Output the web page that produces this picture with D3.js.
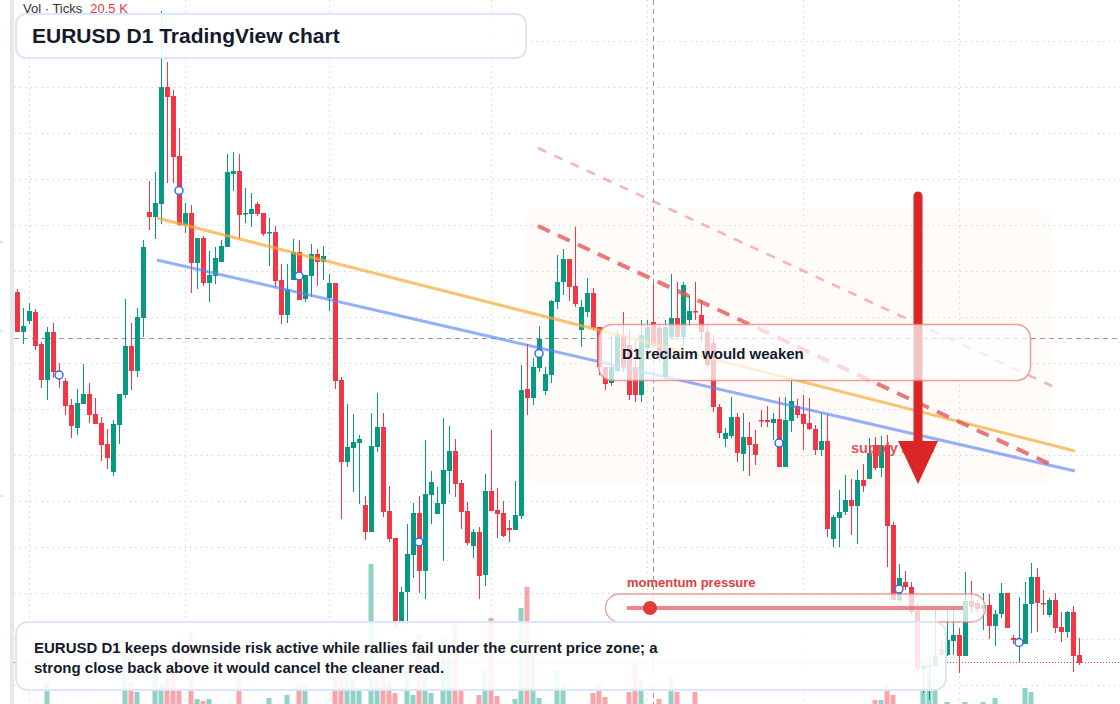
<!DOCTYPE html>
<html><head><meta charset="utf-8">
<script src="https://cdn.jsdelivr.net/npm/d3@7"></script>
<style>
html,body{margin:0;padding:0;background:#fff;}
svg{display:block;font-family:"Liberation Sans",Arial,Helvetica,sans-serif;}
</style></head><body>
<svg id="c" width="1120" height="704"></svg>
<script>
// ---- data (EURUSD D1) ----
const open = [1.1208,1.1168,1.1179,1.1188,1.1156,1.1120,1.1168,1.1128,1.1119,1.1095,1.1072,1.1096,1.1106,1.1086,1.1077,1.1056,1.1028,1.1075,1.1105,1.1154,1.1129,1.1182,1.1288,1.1283,1.1296,1.1413,1.1404,1.1344,1.1275,1.1287,1.1237,1.1262,1.1217,1.1224,1.1238,1.1253,1.1326,1.1329,1.1286,1.1286,1.1296,1.1287,1.1267,1.1268,1.1220,1.1185,1.1220,1.1248,1.1201,1.1224,1.1246,1.1238,1.1202,1.1217,1.1120,1.1038,1.1052,1.1057,1.0995,1.0968,1.1053,1.1073,1.0989,1.0962,1.0879,1.0908,1.0945,1.0987,1.0929,1.1005,1.0986,1.0996,1.1029,1.1049,1.1017,1.0989,1.0954,1.0968,1.0925,1.1009,1.0990,1.0987,1.0972,1.0970,1.0984,1.1111,1.1102,1.1132,1.1109,1.1125,1.1198,1.1218,1.1241,1.1214,1.1170,1.1188,1.1207,1.1173,1.1133,1.1117,1.1129,1.1164,1.1155,1.1133,1.1105,1.1152,1.1178,1.1172,1.1123,1.1163,1.1182,1.1163,1.1180,1.1189,1.1185,1.1168,1.1157,1.1093,1.1061,1.1064,1.1083,1.1046,1.1063,1.1056,1.1080,1.1080,1.1077,1.1081,1.1033,1.1079,1.1094,1.1086,1.1077,1.1071,1.1050,1.1059,1.0961,1.0982,1.0988,1.1000,1.0994,1.1020,1.1021,1.1055,1.1032,1.1055,1.0975,1.0900,1.0918,1.0913,1.0889,1.0831,1.0833,1.0834,1.0851,1.0845,1.0859,1.0865,1.0844,1.0899,1.0897,1.0891,1.0895,1.0874,1.0886,1.0907,1.0862,1.0855,1.0856,1.0896,1.0923,1.0897,1.0885,1.0900,1.0873,1.0868,1.0888,1.0845];
const high = [1.1211,1.1192,1.1197,1.1191,1.1158,1.1173,1.1177,1.1137,1.1122,1.1101,1.1111,1.1136,1.1117,1.1102,1.1083,1.1071,1.1080,1.1106,1.1201,1.1177,1.1192,1.1260,1.1319,1.1328,1.1489,1.1438,1.1410,1.1372,1.1297,1.1295,1.1262,1.1264,1.1249,1.1253,1.1260,1.1346,1.1348,1.1346,1.1312,1.1307,1.1298,1.1287,1.1282,1.1274,1.1236,1.1236,1.1261,1.1260,1.1225,1.1256,1.1251,1.1254,1.1226,1.1217,1.1123,1.1096,1.1086,1.1065,1.1004,1.1087,1.1107,1.1087,1.1014,1.0962,1.0913,1.0976,1.0997,1.1004,1.1060,1.1029,1.1013,1.1082,1.1074,1.1061,1.1020,1.0998,1.0971,1.0973,1.1026,1.1070,1.1012,1.0999,1.0980,1.1019,1.1135,1.1156,1.1142,1.1174,1.1133,1.1200,1.1245,1.1251,1.1241,1.1273,1.1200,1.1222,1.1212,1.1173,1.1133,1.1165,1.1170,1.1188,1.1170,1.1160,1.1180,1.1180,1.1217,1.1175,1.1180,1.1226,1.1218,1.1218,1.1204,1.1218,1.1200,1.1175,1.1165,1.1096,1.1072,1.1103,1.1087,1.1087,1.1078,1.1070,1.1090,1.1094,1.1087,1.1103,1.1103,1.1123,1.1101,1.1105,1.1102,1.1075,1.1087,1.1086,1.0985,1.1010,1.1025,1.1021,1.1030,1.1036,1.1062,1.1063,1.1064,1.1065,1.0978,1.0936,1.0929,1.0918,1.0897,1.0840,1.0843,1.0893,1.0860,1.0891,1.0890,1.0872,1.0928,1.0919,1.0900,1.0907,1.0906,1.0890,1.0917,1.0907,1.0865,1.0903,1.0918,1.0937,1.0932,1.0910,1.0902,1.0907,1.0888,1.0889,1.0894,1.0862];
const low = [1.1168,1.1156,1.1176,1.1150,1.1112,1.1100,1.1122,1.1112,1.1085,1.1062,1.1065,1.1096,1.1077,1.1076,1.1039,1.1031,1.1024,1.1056,1.1102,1.1110,1.1123,1.1163,1.1270,1.1261,1.1276,1.1317,1.1317,1.1274,1.1267,1.1207,1.1211,1.1214,1.1198,1.1216,1.1238,1.1253,1.1309,1.1261,1.1277,1.1273,1.1284,1.1264,1.1234,1.1213,1.1176,1.1177,1.1220,1.1200,1.1198,1.1203,1.1214,1.1220,1.1189,1.1111,1.0981,1.1033,1.1008,1.0996,1.0960,1.0968,1.1048,1.0983,1.0958,1.0872,1.0877,1.0875,1.0922,1.0907,1.0901,1.0976,1.0986,1.0939,1.1006,1.1003,1.0971,1.0955,1.0942,1.0901,1.0914,1.0989,1.0962,1.0963,1.0958,1.0970,1.0981,1.1085,1.1095,1.1128,1.1105,1.1117,1.1191,1.1205,1.1199,1.1193,1.1153,1.1183,1.1170,1.1125,1.1110,1.1114,1.1128,1.1128,1.1100,1.1098,1.1098,1.1150,1.1152,1.1138,1.1120,1.1160,1.1160,1.1155,1.1173,1.1180,1.1158,1.1133,1.1088,1.1062,1.1053,1.1062,1.1038,1.1029,1.1024,1.1035,1.1073,1.1073,1.1060,1.1033,1.1033,1.1068,1.1082,1.1050,1.1070,1.1045,1.1044,1.0963,1.0953,1.0953,1.0985,1.0965,1.0956,1.1008,1.1021,1.1030,1.1023,1.0933,1.0900,1.0898,1.0910,1.0885,1.0826,1.0807,1.0800,1.0833,1.0842,1.0844,1.0845,1.0827,1.0844,1.0887,1.0887,1.0870,1.0861,1.0854,1.0882,1.0872,1.0856,1.0837,1.0856,1.0867,1.0868,1.0885,1.0883,1.0867,1.0858,1.0862,1.0828,1.0835];
const close = [1.1168,1.1174,1.1189,1.1154,1.1120,1.1168,1.1128,1.1122,1.1094,1.1074,1.1097,1.1106,1.1085,1.1076,1.1055,1.1042,1.1076,1.1106,1.1154,1.1129,1.1183,1.1253,1.1283,1.1297,1.1413,1.1403,1.1343,1.1275,1.1287,1.1237,1.1262,1.1217,1.1225,1.1242,1.1254,1.1328,1.1329,1.1285,1.1287,1.1291,1.1286,1.1266,1.1268,1.1219,1.1185,1.1211,1.1248,1.1200,1.1225,1.1246,1.1238,1.1244,1.1217,1.1119,1.1038,1.1053,1.1058,1.1061,1.0968,1.1054,1.1073,1.0988,1.0961,1.0878,1.0908,1.0946,1.0987,1.0929,1.1006,1.1018,1.0997,1.1030,1.1049,1.1016,1.0988,1.0957,1.0968,1.0924,1.1009,1.0989,1.0986,1.0964,1.0970,1.0985,1.1110,1.1102,1.1133,1.1161,1.1126,1.1199,1.1218,1.1241,1.1213,1.1196,1.1193,1.1207,1.1172,1.1133,1.1116,1.1133,1.1165,1.1133,1.1105,1.1105,1.1165,1.1173,1.1155,1.1142,1.1173,1.1182,1.1163,1.1215,1.1189,1.1188,1.1168,1.1135,1.1093,1.1067,1.1067,1.1083,1.1047,1.1063,1.1055,1.1045,1.1079,1.1078,1.1081,1.1033,1.1080,1.1099,1.1085,1.1076,1.1071,1.1050,1.1059,1.0971,1.0983,1.0988,1.1000,1.0994,1.1020,1.1014,1.1047,1.1032,1.1055,1.0974,1.0900,1.0922,1.0913,1.0888,1.0831,1.0834,1.0835,1.0844,1.0845,1.0860,1.0865,1.0844,1.0899,1.0893,1.0891,1.0895,1.0874,1.0886,1.0907,1.0872,1.0860,1.0860,1.0896,1.0923,1.0897,1.0896,1.0900,1.0872,1.0868,1.0888,1.0844,1.0837];
const volume = [22,18,20,24,26,39,25,21,24,26,23,19,22,17,25,23,27,26,52.5,39,34,27,26,43,38,40.5,43,35,24,63.5,30.5,29.5,30.5,22,20,26,24,51.5,18,21,17,23,31,25,27,32.5,26,37.5,37.5,24,19,22,26,41.5,53,43.5,40,36.5,27,98,40,47.5,39,33.5,27,47.5,32.5,63,42.5,33.5,24,60.5,51.5,67.5,35,26,25,32.5,45,71,32,27,22,30.5,76,86.5,55,31,24,27,45,37.5,25,27,23,26,33.5,38,31.5,24,22,26,34,48.5,40,21,25,30.5,26,41.5,34,27,22,34,24,26,25,23,27,24,22,26,25,23,21,24,26,22,25,27,23,24,26,22,25,24,23,26,21,24,25,22,23,30,30,37.5,32.5,27,22,26,27,35,43.5,35,24,29,26,25,29,22,20,29,27,31,26,24,19,23,36,34,27,18,21,24,22,25,27,20.5];
const markerIdx = [7,27,47,67,87,127,147,167];
const priceGrid = [1.1458,1.1412,1.1366,1.1320,1.1274,1.1228,1.1182,1.1136,1.1090,1.1044,1.0998,1.0952,1.0906,1.0860,1.0814];
const timeGrid = [2,28,52,79,105,131,157];
const crossIdx = 106, crossPrice = 1.1162;
const trendOrange = [[23.33,1.1282],[176.33,1.1049]];
const trendBlue = [[23.33,1.1240],[176.33,1.1029]];
const dashLight = [[86.83,1.1352],[172.5,1.1114]];
const dashBold = [[86.83,1.1274],[172.5,1.1035]];
const zoneIdx = [84.7,172.5], zonePrice = [1.1292,1.1016];
const arrowIdx = 150.17, arrowPrice = [1.1304,1.1016];
const titleText = "EURUSD D1 TradingView chart";
const noteLines = ["EURUSD D1 keeps downside risk active while rallies fail under the current price zone; a","strong close back above it would cancel the cleaner read."];

// ---- scales ----
const svg = d3.select("#c");
const W = 1120, H = 704;
const x = d3.scaleLinear().domain([0, open.length-1]).range([17, 1079]);
const y = d3.scaleLinear().domain([1.08, 1.15]).range([700, 0]);
const yv = d3.scaleLinear().domain([0, 100]).range([760, 560]);
const UP = "#089981", DN = "#f23645";
const data = open.map((o,i)=>({i,o,h:high[i],l:low[i],c:close[i],v:volume[i],up:close[i]>=o}));

svg.append("rect").attr("width",W).attr("height",H).attr("fill","#fff");
svg.append("rect").attr("x",10).attr("y",0).attr("width",4).attr("height",H).attr("fill","#e8e8e8");
[242,331,496].forEach(t=>svg.append("line").attr("x1",0).attr("x2",3).attr("y1",t).attr("y2",t).attr("stroke","#c8c8c8"));

// grid
const g = svg.append("g");
g.selectAll(".hg").data(priceGrid).join("line")
  .attr("x1",14).attr("x2",W).attr("y1",d=>Math.round(y(d))-0.5).attr("y2",d=>Math.round(y(d))-0.5)
  .attr("stroke","#d3d6dc").attr("stroke-dasharray","1.5,4");
g.selectAll(".vg").data(timeGrid).join("line")
  .attr("x1",d=>Math.round(x(d))+0.5).attr("x2",d=>Math.round(x(d))+0.5).attr("y1",0).attr("y2",H)
  .attr("stroke","#d3d6dc").attr("stroke-dasharray","1.5,4");

// zone
svg.append("rect").attr("x",x(zoneIdx[0])).attr("y",y(zonePrice[0]))
  .attr("width",x(zoneIdx[1])-x(zoneIdx[0])).attr("height",y(zonePrice[1])-y(zonePrice[0]))
  .attr("rx",14).attr("fill","#fbe6d6").attr("opacity",0.14);

// volume
svg.append("g").selectAll("rect").data(data).join("rect")
  .attr("x",d=>x(d.i)-2.5).attr("width",5)
  .attr("y",d=>yv(d.v)).attr("height",d=>yv(0)-yv(d.v))
  .attr("fill",d=>d.up?UP:DN).attr("opacity",0.45);

// crosshair
svg.append("line").attr("x1",Math.round(x(crossIdx))+0.5).attr("x2",Math.round(x(crossIdx))+0.5).attr("y1",0).attr("y2",H)
  .attr("stroke","#9598a1").attr("stroke-dasharray","5,4");
svg.append("line").attr("x1",14).attr("x2",W).attr("y1",Math.round(y(crossPrice))+0.5).attr("y2",Math.round(y(crossPrice))+0.5)
  .attr("stroke","#9598a1").attr("stroke-dasharray","5,4");

// candles
const cg = svg.append("g");
cg.selectAll(".w").data(data).join("line")
  .attr("x1",d=>Math.round(x(d.i))+0.5).attr("x2",d=>Math.round(x(d.i))+0.5)
  .attr("y1",d=>y(d.h)).attr("y2",d=>y(d.l)).attr("stroke",d=>d.up?UP:DN).attr("stroke-width",1);
cg.selectAll(".b").data(data).join("rect")
  .attr("x",d=>Math.round(x(d.i))-2).attr("width",5)
  .attr("y",d=>y(Math.max(d.o,d.c))).attr("height",d=>Math.max(1.5,Math.abs(y(d.o)-y(d.c))))
  .attr("fill",d=>d.up?UP:DN);

// trend lines
const ln = d3.line().x(d=>x(d[0])).y(d=>y(d[1]));
svg.append("path").attr("d",ln(trendOrange)).attr("stroke","#f7a935").attr("stroke-width",3).attr("opacity",0.7).attr("fill","none");
svg.append("path").attr("d",ln(trendBlue)).attr("stroke","#5b85f2").attr("stroke-width",3).attr("opacity",0.65).attr("fill","none");
svg.append("path").attr("d",ln(dashLight)).attr("stroke","#f08c8c").attr("stroke-width",2.5).attr("opacity",0.65).attr("stroke-dasharray","9,9").attr("fill","none");
svg.append("path").attr("d",ln(dashBold)).attr("stroke","#e55757").attr("stroke-width",4).attr("opacity",0.8).attr("stroke-dasharray","13,9").attr("fill","none");

// markers
svg.append("g").selectAll("circle").data(markerIdx).join("circle")
  .attr("cx",i=>x(i)).attr("cy",i=>y((open[i]+close[i])/2)).attr("r",4)
  .attr("fill","#fff").attr("stroke","#2962ff").attr("stroke-width",1.4);

// last price line
const lastY = Math.round(y(close[close.length-1]))-0.5;
svg.append("line").attr("x1",14).attr("x2",W).attr("y1",lastY).attr("y2",lastY)
  .attr("stroke",DN).attr("stroke-dasharray","1,2");

// supply zone label + arrow
svg.append("text").attr("x",851).attr("y",453).text("supply zone")
  .attr("font-size",14.5).attr("font-weight","bold").attr("fill","#e4464b").attr("opacity",0.92);
const ax = x(arrowIdx);
svg.append("line").attr("x1",ax).attr("x2",ax).attr("y1",y(arrowPrice[0])).attr("y2",y(arrowPrice[1])-40)
  .attr("stroke","#dc2626").attr("stroke-width",9).attr("stroke-linecap","round");
const tip = y(arrowPrice[1]);
svg.append("path").attr("d",`M${ax-20},${tip-43}L${ax+20},${tip-43}L${ax},${tip}Z`).attr("fill","#dc2626");

// D1 reclaim box
svg.append("rect").attr("x",598.5).attr("y",324.5).attr("width",432).attr("height",56).attr("rx",14)
  .attr("fill","#fff").attr("fill-opacity",0.72).attr("stroke","#ee7b7b").attr("stroke-opacity",0.75).attr("stroke-width",1.5);
svg.append("text").attr("x",622).attr("y",359).text("D1 reclaim would weaken")
  .attr("font-size",15).attr("font-weight","bold").attr("fill","#131a2a");

// momentum widget
svg.append("text").attr("x",627).attr("y",587).text("momentum pressure")
  .attr("font-size",13).attr("font-weight","bold").attr("fill","#e23d3d");
svg.append("rect").attr("x",605.5).attr("y",594).attr("width",380).attr("height",28).attr("rx",14)
  .attr("fill","#fff").attr("fill-opacity",0.75).attr("stroke","#ee7b7b").attr("stroke-opacity",0.75).attr("stroke-width",1.3);
svg.append("line").attr("x1",627).attr("x2",963).attr("y1",608).attr("y2",608)
  .attr("stroke","#e86a6a").attr("stroke-width",4).attr("opacity",0.8);
svg.append("circle").attr("cx",650).attr("cy",608).attr("r",7).attr("fill","#e03a3a");

// bottom note
svg.append("rect").attr("x",16).attr("y",622).attr("width",930).attr("height",68).attr("rx",12)
  .attr("fill","#fff").attr("fill-opacity",0.88).attr("stroke","#dbe6f8").attr("stroke-width",2);
svg.append("g").selectAll("text").data(noteLines).join("text")
  .attr("x",34).attr("y",(d,k)=>653+k*20).text(d=>d)
  .attr("font-size",15).attr("font-weight","bold").attr("fill","#131a2a");

// title
svg.append("rect").attr("x",16).attr("y",14).attr("width",510).attr("height",44).attr("rx",10)
  .attr("fill","#fff").attr("fill-opacity",0.9).attr("stroke","#dbe6f8").attr("stroke-width",2);
svg.append("text").attr("x",32).attr("y",43).text(titleText)
  .attr("font-size",21).attr("font-weight","bold").attr("fill","#131a2a");

// vol label
const vl = svg.append("text").attr("x",23).attr("y",13).attr("font-size",13);
vl.append("tspan").attr("fill","#333").text("Vol · Ticks");
vl.append("tspan").attr("fill",DN).attr("dx",8).text(`${volume[volume.length-1]} K`);
</script>
</body></html>
